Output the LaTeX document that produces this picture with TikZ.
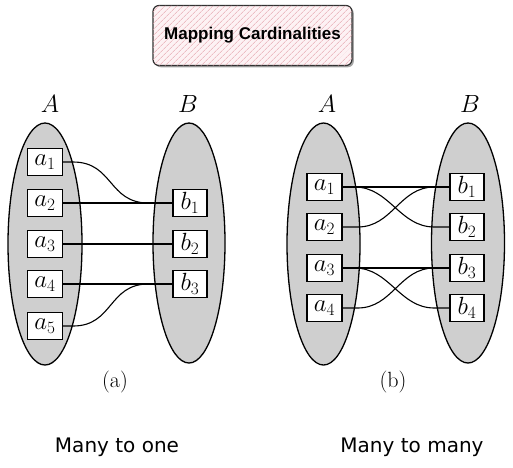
\documentclass[tikz,border=0pt]{standalone}
\usepackage{fontspec}
\newfontfamily\titlefont{Liberation Sans}
\newfontfamily\capfont{DejaVu Sans}
\usetikzlibrary{shapes.geometric,patterns.meta,shadows,calc}
\definecolor{setgray}{gray}{0.81}
\definecolor{hatchpink}{RGB}{228,160,170}
\definecolor{pinkbg}{RGB}{253,242,244}
\tikzset{
  setell/.style={ellipse, draw=black, line width=1.3pt, fill=setgray, inner sep=0pt},
  elem/.style={rectangle, draw=black, line width=1.3pt, fill=white, minimum width=35pt, minimum height=27pt, inner sep=0pt, font=\fontsize{25}{28}\selectfont},
  setlab/.style={font=\fontsize{23}{26}\selectfont},
  sublab/.style={font=\fontsize{22}{26}\selectfont},
  conn/.style={line width=1.1pt, draw=black},
  caption/.style={font=\capfont\fontsize{20}{24}\selectfont},
  titlebox/.style={rectangle, rounded corners=6pt,
    drop shadow={shadow xshift=1.8pt, shadow yshift=-1.8pt, fill=gray!70, opacity=1},
    fill=pinkbg, draw={rgb,255:red,50;green,50;blue,50}, line width=1.2pt,
    postaction={pattern={Lines[angle=45,distance=4pt,line width=0.6pt]}, pattern color=hatchpink},
    minimum width=199pt, minimum height=60pt, font=\titlefont\bfseries\fontsize{17}{20}\selectfont}
}
\begin{document}
\begin{tikzpicture}[x=1pt,y=-1pt]
\useasboundingbox (0,0) rectangle (513,467);
% title
\node[titlebox] (title) at (252.5,35.5) {};
\node[font=\titlefont\bfseries\fontsize{17}{20}\selectfont] (titletext) at (title.center) {Mapping Cardinalities};

% ---- panel (a)
\node[setell, minimum width=74pt, minimum height=242pt] (EA) at (45,244) {};
\node[setell, minimum width=72pt, minimum height=240pt] (EB) at (189,243) {};
\node[setlab] (LA) at (50,104) {$A$};
\node[setlab] (LB) at (188,104) {$B$};
\node[elem] (a1) at (45,162) {$a_1$};
\node[elem] (a2) at (45,203) {$a_2$};
\node[elem] (a3) at (45,244) {$a_3$};
\node[elem] (a4) at (45,284) {$a_4$};
\node[elem] (a5) at (45,326) {$a_5$};
\node[elem, minimum width=34pt] (b1) at (190,203) {$b_1$};
\node[elem, minimum width=34pt] (b2) at (190,244) {$b_2$};
\node[elem, minimum width=34pt] (b3) at (190,284) {$b_3$};
\draw[conn] (a1.east) -- ++(10,0) .. controls +(40,0) and +(-40,0) .. ($(b1.west)+(-24,0)$) -- (b1.west);
\draw[conn] (a2.east) -- (b1.west);
\draw[conn] (a3.east) -- (b2.west);
\draw[conn] (a4.east) -- (b3.west);
\draw[conn] (a5.east) -- ++(10,0) .. controls +(40,0) and +(-40,0) .. ($(b3.west)+(-24,0)$) -- (b3.west);
\node[sublab] (capa) at (115,382) {(a)};

% ---- panel (b)
\node[setell, minimum width=73pt, minimum height=242pt] (FA) at (323.5,244) {};
\node[setell, minimum width=73pt, minimum height=240pt] (FB) at (468,243) {};
\node[setlab] (MA) at (327,104) {$A$};
\node[setlab] (MB) at (470,104) {$B$};
\node[elem] (c1) at (324.5,187) {$a_1$};
\node[elem] (c2) at (324.5,227) {$a_2$};
\node[elem] (c3) at (324.5,268) {$a_3$};
\node[elem] (c4) at (324.5,308) {$a_4$};
\node[elem, minimum width=34pt] (d1) at (467,187) {$b_1$};
\node[elem, minimum width=34pt] (d2) at (467,227) {$b_2$};
\node[elem, minimum width=34pt] (d3) at (467,268) {$b_3$};
\node[elem, minimum width=34pt] (d4) at (467,308) {$b_4$};
\draw[conn] (c1.east) -- (d1.west);
\draw[conn] (c3.east) -- (d3.west);
\draw[conn] (c1.east) -- ++(12,0) .. controls +(35,0) and +(-35,0) .. ($(d2.west)+(-15,0)$) -- (d2.west);
\draw[conn] (c2.east) -- ++(15,0) .. controls +(35,0) and +(-35,0) .. ($(d1.west)+(-15,0)$) -- (d1.west);
\draw[conn] (c3.east) -- ++(12,0) .. controls +(35,0) and +(-35,0) .. ($(d4.west)+(-15,0)$) -- (d4.west);
\draw[conn] (c4.east) -- ++(15,0) .. controls +(35,0) and +(-35,0) .. ($(d3.west)+(-15,0)$) -- (d3.west);
\node[sublab] (capb) at (393,382) {(b)};

% captions
\node[caption] (m1) at (117,447) {Many to one};
\node[caption] (m2) at (412,447) {Many to many};
\end{tikzpicture}
\end{document}
